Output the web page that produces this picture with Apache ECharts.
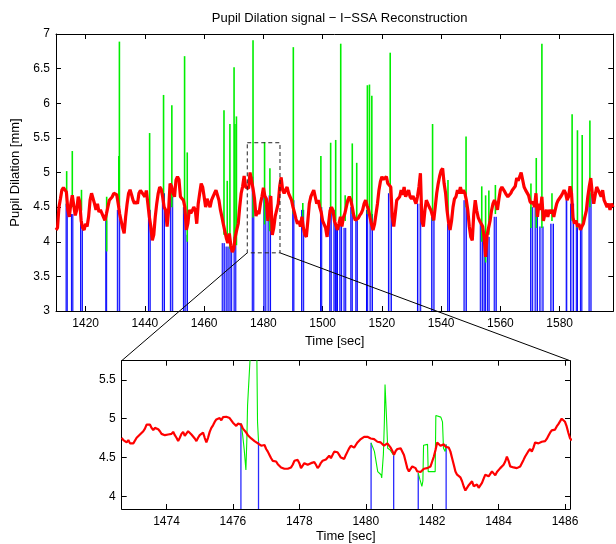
<!DOCTYPE html>
<html>
<head>
<meta charset="utf-8">
<script src="https://cdn.jsdelivr.net/npm/echarts@6/dist/echarts.min.js"></script>
<style>
  html, body { margin: 0; padding: 0; background: #fff; }
  #main { width: 616px; height: 544px; }
</style>
</head>
<body>
<div id="main"></div>
<script>
// ---- data ----
// overview pupil signal (reconstruction), one value every 0.5 s from 1410 s
var redStart = 1410;
var redStep = 0.5;
var redValues = [
  4.17, 4.2, 4.5, 4.62, 4.75, 4.78, 4.8, 4.72, 4.46, 4.36,
  4.55, 4.67, 4.65, 4.38, 4.46, 4.65, 4.58, 4.3, 4.2, 4.17,
  4.26, 4.22, 4.36, 4.6, 4.7, 4.68, 4.55, 4.46, 4.55, 4.43,
  4.46, 4.41, 4.36, 4.31, 4.4, 4.5, 4.6, 4.62, 4.65, 4.7,
  4.7, 4.68, 4.55, 4.4, 4.3, 4.2, 4.12, 4.36, 4.55, 4.7,
  4.75, 4.68, 4.6, 4.55, 4.58, 4.55, 4.7, 4.74, 4.74, 4.68,
  4.65, 4.74, 4.55, 4.36, 4.22, 4.02, 4.1, 4.36, 4.55, 4.7,
  4.79, 4.76, 4.65, 4.5, 4.46, 4.22, 4.45, 4.84, 4.8, 4.7,
  4.65, 4.89, 4.94, 4.9, 4.65, 4.65, 4.6, 4.5, 4.17, 4.26,
  4.46, 4.41, 4.45, 4.5, 4.46, 4.26, 4.55, 4.7, 4.84, 4.79,
  4.65, 4.5, 4.62, 4.55, 4.5, 4.6, 4.65, 4.7, 4.745, 4.745,
  4.6, 4.46, 4.36, 4.25, 4.15, 4.05, 3.98, 4.12, 3.95, 3.85,
  3.9, 4.07, 4.17, 4.26, 4.5, 4.7, 4.8, 4.95, 4.79, 4.8,
  4.77, 5.0, 4.98, 4.77, 4.62, 4.37, 4.45, 4.4, 4.55, 4.65,
  4.78, 4.66, 4.62, 4.3, 4.5, 4.66, 4.1, 4.2, 4.37, 4.37,
  4.55, 4.8, 4.93, 4.745, 4.7, 4.75, 4.79, 4.7, 4.72, 4.6,
  4.5, 4.42, 4.33, 4.26, 4.3, 4.22, 4.36, 4.2, 4.1, 4.07,
  4.3, 4.55, 4.65, 4.7, 4.745, 4.65, 4.55, 4.6, 4.5, 4.43,
  4.3, 4.3, 4.2, 4.07, 4.26, 4.45, 4.5, 4.45, 4.3, 4.3,
  4.17, 4.26, 4.36, 4.22, 4.35, 4.41, 4.4, 4.6, 4.65, 4.6,
  4.5, 4.38, 4.31, 4.31, 4.34, 4.38, 4.41, 4.46, 4.55, 4.6,
  4.52, 4.46, 4.35, 4.25, 4.17, 4.25, 4.4, 4.55, 4.745, 4.87,
  4.94, 4.9, 4.92, 4.94, 4.84, 4.84, 4.79, 4.36, 4.22, 4.4,
  4.6, 4.62, 4.65, 4.745, 4.68, 4.79, 4.65, 4.7, 4.745, 4.65,
  4.62, 4.66, 4.68, 4.55, 4.65, 4.79, 4.99, 4.3, 4.22, 4.45,
  4.6, 4.58, 4.5, 4.46, 4.46, 4.31, 4.5, 4.7, 4.84, 4.95,
  5.03, 5.06, 4.84, 4.7, 4.45, 4.28, 4.17, 4.3, 4.5, 4.62,
  4.65, 4.745, 4.7, 4.79, 4.7, 4.745, 4.7, 4.6, 4.45, 4.22,
  4.07, 4.02, 4.4, 4.6, 4.45, 4.35, 4.3, 4.26, 4.22, 4.07,
  3.78, 4.1, 4.2, 4.3, 4.45, 4.55, 4.6, 4.55, 4.46, 4.62,
  4.75, 4.79, 4.77, 4.72, 4.68, 4.65, 4.66, 4.7, 4.745, 4.72,
  4.8, 4.92, 4.88, 4.9, 5.0, 5.02, 4.79, 4.745, 4.745, 4.67,
  4.58, 4.55, 4.58, 4.5, 4.7, 4.36, 4.55, 4.46, 4.65, 4.3,
  4.4, 4.46, 4.36, 4.46, 4.41, 4.46, 4.36, 4.46, 4.55, 4.6,
  4.62, 4.66, 4.7, 4.745, 4.7, 4.6, 4.65, 4.8, 4.7, 4.35,
  4.26, 4.31, 4.22, 4.26, 4.17, 4.22, 4.26, 4.36, 4.45, 4.65,
  4.8, 4.92, 4.7, 4.55, 4.68, 4.79, 4.745, 4.7, 4.65, 4.745,
  4.6, 4.55, 4.5, 4.55, 4.46, 4.55, 4.5
];

// green spikes of the raw signal: [time, from, to]
var greenSpikes = [
  [1413.6, 4.5, 5.02], [1415.5, 4.5, 5.31], [1418.6, 4.45, 4.75], [1427.1, 3.86, 4.65],
  [1431.2, 4.5, 5.24], [1431.4, 4.5, 6.89], [1441.6, 4.4, 5.57], [1446.3, 4.6, 6.12],
  [1449.1, 4.5, 5.97], [1453.4, 4.4, 6.68], [1454.3, 4.0, 5.29], [1466.7, 4.1, 5.9],
  [1467.8, 4.0, 4.88], [1468.7, 3.9, 5.7], [1470.1, 3.9, 6.52], [1470.4, 3.95, 5.7],
  [1470.9, 3.95, 5.81], [1476.5, 4.35, 6.91], [1480.4, 4.25, 5.44], [1482.2, 4.15, 5.06],
  [1490.1, 4.4, 6.81], [1493.3, 4.3, 4.56], [1499.4, 4.4, 5.24], [1502.7, 4.4, 5.43],
  [1504.4, 4.3, 5.47], [1506.1, 4.3, 6.86], [1507.6, 4.3, 4.67], [1510.0, 4.4, 5.42],
  [1511.5, 4.3, 5.14], [1515.1, 4.4, 6.26], [1515.8, 4.4, 6.27], [1516.6, 4.2, 6.11],
  [1522.8, 4.7, 6.73], [1537.1, 4.3, 5.7], [1542.3, 4.3, 4.89], [1548.4, 4.5, 5.52],
  [1553.7, 4.0, 4.8], [1555.0, 3.7, 4.67], [1556.1, 4.1, 4.74], [1558.3, 4.4, 4.82],
  [1570.3, 4.2, 4.84], [1572.1, 4.2, 5.21], [1574.0, 4.2, 6.86], [1577.4, 4.3, 4.7],
  [1584.2, 4.3, 5.84], [1586.0, 4.2, 5.61], [1587.6, 4.2, 5.54], [1590.2, 4.5, 5.75]
];

// blinks (signal drops to zero): [start, end, level at start, level at end]
var blinks = [
  [1413.4, 1413.8, 4.55, 4.55], [1415.2, 1415.7, 4.4, 4.4], [1418.3, 1418.9, 4.3, 4.3],
  [1426.8, 1427.1, 4.3, 4.3], [1430.7, 1431.5, 4.46, 4.46], [1441.2, 1441.8, 4.46, 4.46],
  [1445.9, 1446.6, 4.7, 4.7], [1448.6, 1449.4, 4.65, 4.65], [1453.0, 1453.6, 4.5, 4.5],
  [1454.3, 1454.3, 4.1, 4.1], [1466.1, 1466.8, 3.98, 3.98], [1467.4, 1468.1, 3.93, 3.93],
  [1468.7, 1469.3, 3.93, 3.93], [1470.1, 1470.7, 4.07, 4.07], [1476.24, 1476.77, 4.94, 4.71],
  [1480.16, 1480.84, 4.69, 4.53], [1481.58, 1482.42, 4.3, 4.67], [1489.9, 1490.3, 4.6, 4.6],
  [1492.9, 1493.6, 4.46, 4.46], [1499.3, 1499.7, 4.5, 4.5], [1502.4, 1502.9, 4.5, 4.5],
  [1503.8, 1504.3, 4.46, 4.46], [1504.6, 1505.0, 4.2, 4.2], [1505.8, 1506.4, 4.25, 4.25],
  [1507.2, 1507.8, 4.2, 4.2], [1509.5, 1510.0, 4.5, 4.5], [1511.2, 1511.7, 4.31, 4.31],
  [1514.8, 1515.2, 4.46, 4.46], [1516.0, 1516.8, 4.4, 4.4], [1522.2, 1523.2, 4.7, 4.7],
  [1532.0, 1533.1, 4.55, 4.55], [1536.8, 1537.6, 4.36, 4.36], [1542.2, 1542.8, 4.26, 4.26],
  [1547.7, 1548.5, 4.6, 4.6], [1553.2, 1554.0, 4.26, 4.26], [1554.5, 1555.0, 4.07, 4.07],
  [1555.6, 1556.2, 4.07, 4.07], [1557.9, 1558.6, 4.36, 4.36], [1570.2, 1570.9, 4.5, 4.5],
  [1571.7, 1572.5, 4.5, 4.5], [1573.3, 1574.4, 4.22, 4.22], [1577.0, 1577.9, 4.26, 4.26],
  [1582.2, 1582.4, 4.6, 4.6], [1583.7, 1584.7, 4.55, 4.55], [1585.6, 1586.0, 4.22, 4.22],
  [1587.0, 1587.5, 4.22, 4.22], [1589.9, 1590.6, 4.7, 4.7]
];

// zoomed detail: reconstruction every 0.05 s from 1472.65 s
var detailStart = 1472.65;
var detailStep = 0.05;
var detailRed = [
  4.755, 4.725, 4.746, 4.695, 4.725, 4.683, 4.67, 4.683, 4.704, 4.755,
  4.78, 4.797, 4.805, 4.839, 4.873, 4.924, 4.949, 4.924, 4.882, 4.852,
  4.882, 4.907, 4.865, 4.839, 4.805, 4.822, 4.788, 4.78, 4.797, 4.78,
  4.805, 4.831, 4.788, 4.755, 4.712, 4.755, 4.805, 4.831, 4.78, 4.797,
  4.839, 4.822, 4.797, 4.822, 4.746, 4.712, 4.755, 4.788, 4.797, 4.822,
  4.755, 4.695, 4.755, 4.831, 4.882, 4.915, 4.958, 4.99, 5.008, 5.008,
  4.979, 5.02, 5.034, 5.025, 5.03, 5.008, 4.983, 4.949, 4.924, 4.907,
  4.937, 4.949, 4.924, 4.873, 4.852, 4.822, 4.788, 4.767, 4.746, 4.725,
  4.712, 4.695, 4.683, 4.67, 4.653, 4.67, 4.662, 4.611, 4.577, 4.535,
  4.492, 4.459, 4.442, 4.45, 4.416, 4.391, 4.374, 4.365, 4.357, 4.374,
  4.357, 4.365, 4.374, 4.408, 4.459, 4.484, 4.471, 4.429, 4.365, 4.374,
  4.429, 4.442, 4.408, 4.391, 4.429, 4.45, 4.442, 4.408, 4.365, 4.391,
  4.433, 4.459, 4.45, 4.475, 4.492, 4.526,
  4.492, 4.492, 4.577, 4.598, 4.569, 4.535, 4.501, 4.514, 4.484, 4.535,
  4.577, 4.619, 4.653, 4.67, 4.628, 4.662, 4.695, 4.712, 4.738, 4.755,
  4.767, 4.776, 4.767, 4.755, 4.746, 4.725, 4.738, 4.725, 4.704, 4.683,
  4.695, 4.67, 4.653, 4.67, 4.683, 4.662, 4.628, 4.585, 4.535, 4.585,
  4.611, 4.628, 4.619, 4.598, 4.535, 4.45, 4.365, 4.323, 4.344, 4.387,
  4.408, 4.365, 4.323, 4.302, 4.315, 4.332, 4.357, 4.374, 4.365, 4.344,
  4.387, 4.45, 4.514, 4.598, 4.695, 4.683, 4.653, 4.662, 4.67, 4.64,
  4.653, 4.628, 4.577, 4.492, 4.408, 4.323, 4.281, 4.302, 4.247, 4.196,
  4.129, 4.078, 4.103, 4.146, 4.129, 4.196, 4.133, 4.112, 4.154, 4.112,
  4.12, 4.175, 4.23, 4.281, 4.302, 4.26, 4.281, 4.323, 4.302, 4.272,
  4.315, 4.332, 4.365, 4.387, 4.408, 4.45, 4.514, 4.459, 4.387, 4.365,
  4.374, 4.374, 4.365, 4.374, 4.387, 4.429, 4.471, 4.514, 4.535, 4.585,
  4.611, 4.577, 4.628, 4.695, 4.712, 4.683, 4.67, 4.704, 4.725, 4.712,
  4.74, 4.78, 4.82, 4.85, 4.87, 4.86, 4.9, 4.93, 4.95, 5.0,
  4.98, 4.96, 4.9, 4.82, 4.75, 4.72
];

// zoomed detail: raw signal around the blinks, [time, value]
var detailGreen1 = [
  [1476.24, 4.94], [1476.29, 4.8], [1476.34, 4.6], [1476.39, 4.34], [1476.42, 4.75],
  [1476.44, 5.17], [1476.49, 5.19], [1476.52, 5.8], [1476.6, 6.9], [1476.7, 6.5],
  [1476.72, 5.8], [1476.74, 4.96], [1476.77, 4.71]
];
var detailGreen2 = [
  [1480.16, 4.69], [1480.21, 4.67], [1480.26, 4.58], [1480.31, 4.56], [1480.36, 4.32],
  [1480.41, 4.3], [1480.46, 4.28], [1480.48, 4.24], [1480.51, 4.24], [1480.53, 4.54],
  [1480.56, 4.96], [1480.58, 5.44], [1480.61, 5.44], [1480.63, 4.96], [1480.66, 4.62],
  [1480.73, 4.6], [1480.84, 4.53]
];
var detailGreen3 = [
  [1481.58, 4.3], [1481.63, 4.22], [1481.69, 4.13], [1481.72, 4.2], [1481.74, 4.66],
  [1481.77, 4.67], [1481.86, 4.67], [1481.88, 4.32], [1481.94, 4.32], [1482.09, 4.32],
  [1482.11, 5.04], [1482.16, 5.05], [1482.26, 5.02], [1482.31, 4.96], [1482.34, 4.62],
  [1482.39, 4.58], [1482.42, 4.67]
];
// zoomed detail: blink edges, [time, level]
var detailBlue = [
  [1476.24, 4.94], [1476.77, 4.71], [1480.16, 4.69],
  [1480.84, 4.53], [1481.58, 4.3], [1482.42, 4.67]
];

// axes
var topX = [1410, 1598.1];
var topY = [3, 7];
var topXTicks = [1420, 1440, 1460, 1480, 1500, 1520, 1540, 1560, 1580];
var topYTicks = [3, 3.5, 4, 4.5, 5, 5.5, 6, 6.5, 7];
var insetX = [1472.65, 1486.15];
var insetY = [3.84, 5.745];
var insetXTicks = [1474, 1476, 1478, 1480, 1482, 1484, 1486];
var insetYTicks = [4, 4.5, 5, 5.5];
// dashed box in the overview: [t0, t1, v0, v1]
var zoomBox = [1474.56, 1485.6, 3.84, 5.43];

// ---- chart ----
var FONT = 'Liberation Sans, Arial, Helvetica, sans-serif';
var dom = document.getElementById('main');
var myChart = echarts.init(dom, null, { renderer: 'canvas' });

var redData = redValues.map(function (v, i) { return [redStart + i * redStep, v]; });
var detailRedData = detailRed.map(function (v, i) { return [detailStart + i * detailStep, v]; });
var detailGreenData = detailGreen1.concat([null], detailGreen2, [null], detailGreen3)
  .map(function (p) { return p === null ? [null, null] : p; });

var gridTop = { left: 56, top: 34, width: 557.3, height: 277 };
var gridInset = { left: 121.7, top: 360.7, width: 448.3, height: 150.6 };

function plain(v) { return String(v); }

function seg(x1, y1, x2, y2, color, w) {
  return { type: 'line', shape: { x1: x1, y1: y1, x2: x2, y2: y2 }, style: { stroke: color, lineWidth: w } };
}

function xAxisPair(grid, range, ticks, name, nameGap) {
  var line = { show: true, onZero: false, lineStyle: { color: '#000', width: 1 } };
  return [{
    gridIndex: grid, type: 'value', position: 'bottom', min: range[0], max: range[1],
    axisLine: line, splitLine: { show: false },
    axisTick: { inside: true, length: 5, customValues: ticks, lineStyle: { color: '#000' } },
    axisLabel: { customValues: ticks, formatter: plain, margin: 7, color: '#000', fontSize: 12, fontFamily: FONT },
    name: name, nameLocation: 'middle', nameGap: nameGap,
    nameTextStyle: { color: '#000', fontSize: 13, fontFamily: FONT }
  }, {
    gridIndex: grid, type: 'value', position: 'top', min: range[0], max: range[1],
    axisLine: line, splitLine: { show: false },
    axisTick: { inside: true, length: 5, customValues: ticks, lineStyle: { color: '#000' } },
    axisLabel: { show: false }
  }];
}

function yAxisPair(grid, range, ticks, name) {
  var line = { show: true, onZero: false, lineStyle: { color: '#000', width: 1 } };
  return [{
    gridIndex: grid, type: 'value', position: 'left', min: range[0], max: range[1],
    axisLine: line, splitLine: { show: false },
    axisTick: { inside: true, length: 5, customValues: ticks, lineStyle: { color: '#000' } },
    axisLabel: { customValues: ticks, formatter: plain, margin: 6, color: '#000', fontSize: 12, fontFamily: FONT },
    name: name, nameLocation: 'middle', nameGap: 27,
    nameTextStyle: { color: '#000', fontSize: 13, fontFamily: FONT }
  }, {
    gridIndex: grid, type: 'value', position: 'right', min: range[0], max: range[1],
    axisLine: line, splitLine: { show: false },
    axisTick: { inside: true, length: 5, customValues: ticks, lineStyle: { color: '#000' } },
    axisLabel: { show: false }
  }];
}

var option = {
  animation: false,
  backgroundColor: '#fff',
  title: {
    text: 'Pupil Dilation signal \u2212 I\u2212SSA Reconstruction',
    left: gridTop.left + gridTop.width / 2, top: 7, textAlign: 'center',
    textStyle: { color: '#000', fontSize: 13, fontWeight: 'normal', fontFamily: FONT }
  },
  grid: [gridTop, gridInset],
  xAxis: xAxisPair(0, topX, topXTicks, 'Time [sec]', 22)
    .concat(xAxisPair(1, insetX, insetXTicks, 'Time [sec]', 21)),
  yAxis: yAxisPair(0, topY, topYTicks, 'Pupil Dilation [mm]')
    .concat(yAxisPair(1, insetY, insetYTicks, '')),
  series: [
    {
      // blinks: edges in blue, the gap between them lighter
      type: 'custom', xAxisIndex: 0, yAxisIndex: 0, silent: true, z: 1,
      encode: { x: [0, 1], y: [2, 3] },
      data: blinks,
      renderItem: function (params, api) {
        var a = api.coord([api.value(0), api.value(2)]);
        var b = api.coord([api.value(1), api.value(3)]);
        var base = api.coord([api.value(0), topY[0]])[1];
        var top = Math.min(a[1], b[1]);
        var children = [];
        if (b[0] - a[0] > 0.6) {
          children.push({ type: 'rect', shape: { x: a[0], y: top, width: b[0] - a[0], height: base - top },
            style: { fill: '#9c9cff' } });
        }
        children.push(seg(a[0], a[1], a[0], base, '#0000ff', 1));
        children.push(seg(b[0], b[1], b[0], base, '#0000ff', 1));
        return { type: 'group', children: children };
      }
    },
    {
      type: 'custom', xAxisIndex: 0, yAxisIndex: 0, silent: true, z: 2,
      encode: { x: 0, y: [1, 2] },
      data: greenSpikes,
      renderItem: function (params, api) {
        var p0 = api.coord([api.value(0), api.value(1)]);
        var p1 = api.coord([api.value(0), api.value(2)]);
        return seg(p0[0], p0[1], p1[0], p1[1], '#00ee00', 1.6);
      }
    },
    {
      type: 'line', xAxisIndex: 0, yAxisIndex: 0, silent: true, z: 3,
      data: redData, showSymbol: false, symbol: 'none',
      lineStyle: { color: '#ff0000', width: 3.2 }
    },
    {
      type: 'custom', xAxisIndex: 2, yAxisIndex: 2, silent: true, z: 1,
      encode: { x: 0, y: 1 },
      data: detailBlue,
      renderItem: function (params, api) {
        var p0 = api.coord([api.value(0), api.value(1)]);
        var base = api.coord([api.value(0), insetY[0]])[1];
        return seg(p0[0], p0[1], p0[0], base, '#2a2aff', 1.3);
      }
    },
    {
      type: 'line', xAxisIndex: 2, yAxisIndex: 2, silent: true, z: 2,
      data: detailGreenData, showSymbol: false, symbol: 'none', connectNulls: false,
      lineStyle: { color: '#00ee00', width: 1.1 }
    },
    {
      type: 'line', xAxisIndex: 2, yAxisIndex: 2, silent: true, z: 3,
      data: detailRedData, showSymbol: false, symbol: 'none',
      lineStyle: { color: '#ff0000', width: 2.2 }
    }
  ]
};

myChart.setOption(option);

// dashed zoom box and the lines linking it to the detail panel
var boxTL = myChart.convertToPixel({ gridIndex: 0 }, [zoomBox[0], zoomBox[3]]);
var boxBR = myChart.convertToPixel({ gridIndex: 0 }, [zoomBox[1], zoomBox[2]]);
var insetTL = myChart.convertToPixel({ gridIndex: 1 }, [insetX[0], insetY[1]]);
var insetTR = myChart.convertToPixel({ gridIndex: 1 }, [insetX[1], insetY[1]]);

myChart.setOption({
  graphic: [
    {
      type: 'rect', z: 100, silent: true,
      shape: { x: boxTL[0], y: boxTL[1], width: boxBR[0] - boxTL[0], height: boxBR[1] - boxTL[1] },
      style: { fill: null, stroke: '#222', lineWidth: 1, lineDash: [4, 3] }
    },
    {
      type: 'line', z: 100, silent: true,
      shape: { x1: boxTL[0], y1: boxBR[1], x2: insetTL[0], y2: insetTL[1] },
      style: { stroke: '#000', lineWidth: 1 }
    },
    {
      type: 'line', z: 100, silent: true,
      shape: { x1: boxBR[0], y1: boxBR[1], x2: insetTR[0], y2: insetTR[1] },
      style: { stroke: '#000', lineWidth: 1 }
    }
  ]
});

window.addEventListener('resize', myChart.resize);
</script>
</body>
</html>
